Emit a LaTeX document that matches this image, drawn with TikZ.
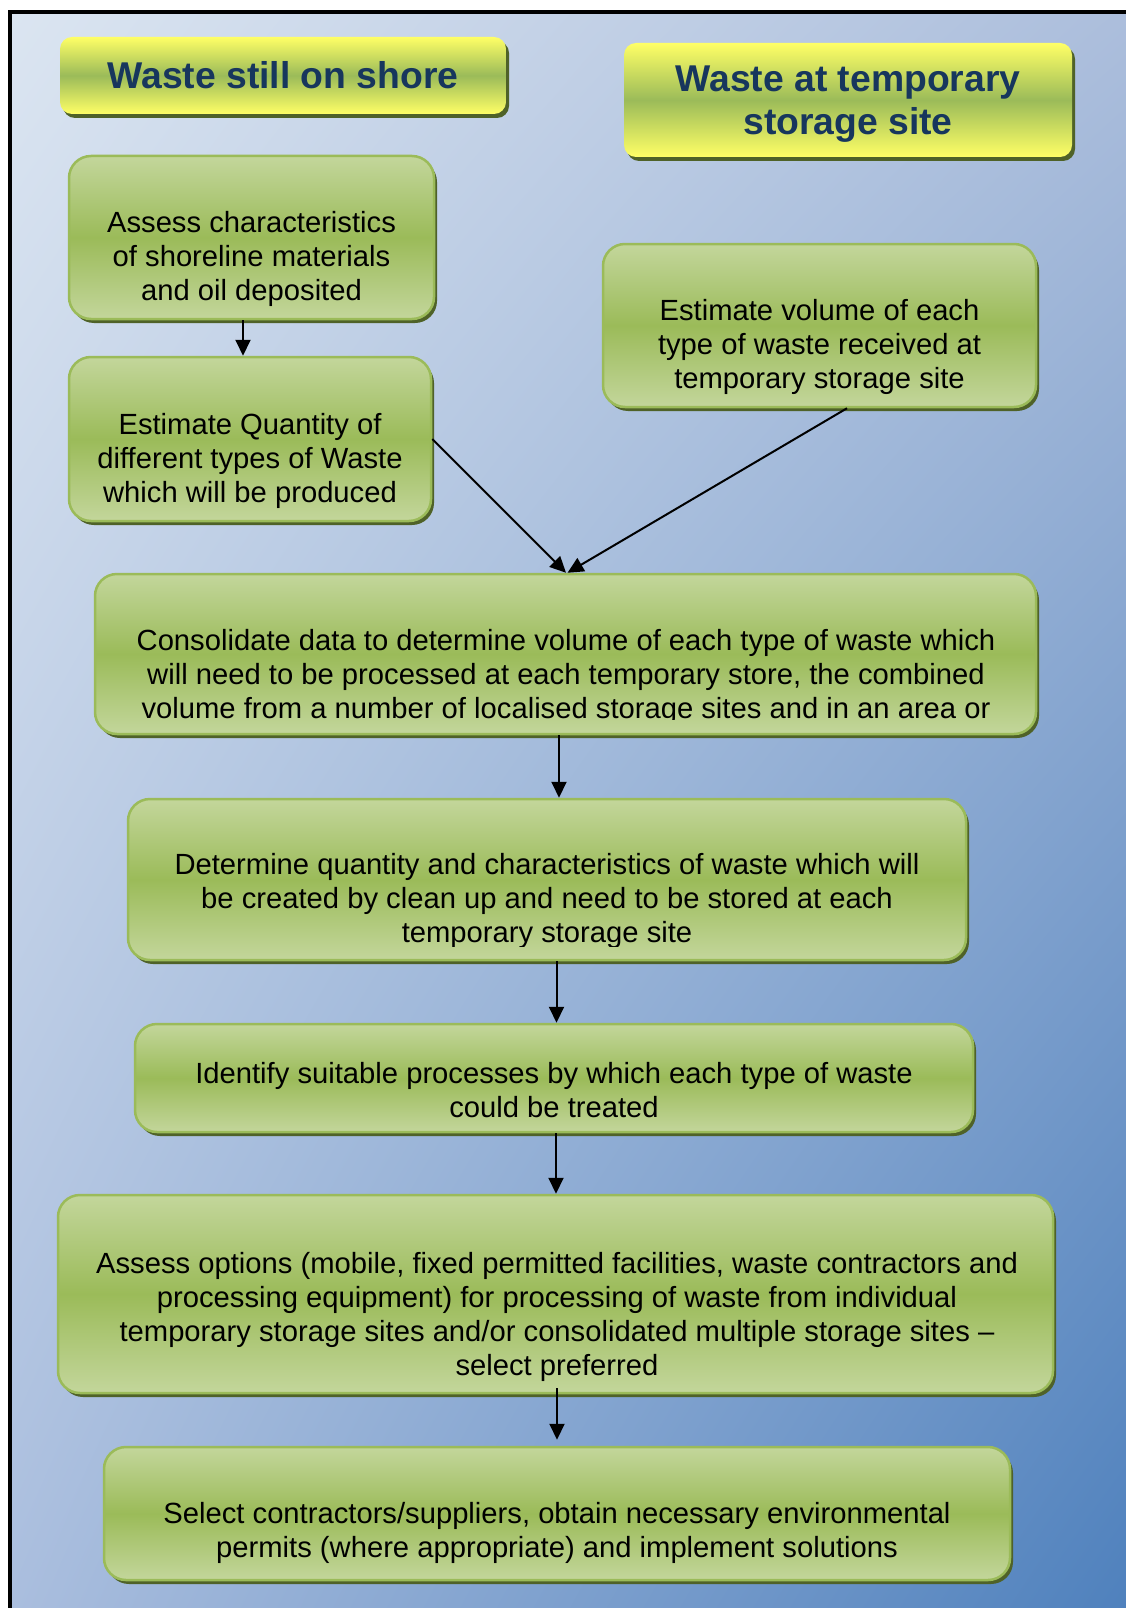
\documentclass[tikz,border=0pt]{standalone}
\usepackage{fontspec}
\setmainfont{Liberation Sans}
\usetikzlibrary{arrows.meta,shadings,shadows}
\definecolor{bgA}{RGB}{219,229,241}
\definecolor{bgB}{RGB}{172,190,220}
\definecolor{bgC}{RGB}{170,190,222}
\definecolor{bgD}{RGB}{79,129,189}
\definecolor{boxlight}{RGB}{195,214,155}
\definecolor{boxdark}{RGB}{155,187,89}
\definecolor{boxedge}{RGB}{155,187,89}
\definecolor{shadowc}{RGB}{79,98,40}
\definecolor{hyellow}{RGB}{255,255,102}
\definecolor{htext}{RGB}{23,54,93}
\tikzset{
  stepbox/.style={rounded corners=22pt, draw=boxedge, line width=2.5pt,
    top color=boxlight, bottom color=boxlight, middle color=boxdark,
    drop shadow={shadow xshift=3pt, shadow yshift=-4pt, fill=shadowc, opacity=1},
    inner sep=0pt},
  headbox/.style={rounded corners=12pt, draw=none,
    top color=hyellow, bottom color=hyellow, middle color=boxdark,
    drop shadow={shadow xshift=3pt, shadow yshift=-4pt, fill=shadowc, opacity=1},
    inner sep=0pt},
  headtxt/.style={align=center, inner sep=0pt, text=htext,
    font=\fontsize{37.3pt}{43pt}\selectfont\bfseries},
  txt/.style={align=center, inner sep=0pt, font=\fontsize{29.2pt}{34pt}\selectfont},
  arr/.style={line width=2pt, -{Triangle[length=16pt,width=15pt]}}
}
\begin{document}
\begin{tikzpicture}[x=1pt,y=-1pt]
\useasboundingbox (0,0) rectangle (1126,1608);
\clip (0,0) rectangle (1126,1608);
\fill[white] (0,0) rectangle (1126,1608);
\shade[upper left=bgA, upper right=bgB, lower left=bgC, lower right=bgD] (12,14) rectangle (1126,1608);
\draw[line width=4pt] (10,1608) -- (10,12) -- (1126,12);

% headers
\node[headbox, minimum width=446pt, minimum height=77pt] (H1) at (283,75.5) {};
\node[headbox, minimum width=448pt, minimum height=114pt] (H2) at (848,100) {};
\node[headtxt] (H1t) at (283,75) {Waste still on shore};
\node[headtxt] (H2t) at (848,104) {Waste at temporary\\storage site};

% boxes
\node[stepbox, minimum width=365pt, minimum height=163pt] (A) at (251.5,237.5) {};
\node[stepbox, minimum width=433pt, minimum height=163pt] (B) at (819.5,325.5) {};
\node[stepbox, minimum width=362pt, minimum height=164pt] (C) at (250,439) {};
\node[stepbox, minimum width=941pt, minimum height=160pt] (D) at (565.5,654) {};
\node[stepbox, minimum width=838pt, minimum height=161pt] (E) at (547,879.5) {};
\node[stepbox, minimum width=838pt, minimum height=108pt] (F) at (554,1078) {};
\node[stepbox, minimum width=995pt, minimum height=198pt] (G) at (555.5,1294) {};
\node[stepbox, minimum width=906pt, minimum height=133pt] (H) at (557,1513.5) {};

% texts
\node[txt] (At) at (251.5,259) {Assess characteristics\\of shoreline materials\\and oil deposited};
\node[txt] (Ct) at (250,461) {Estimate Quantity of\\different types of Waste\\which will be produced};
\node[txt] (Bt) at (819.5,347) {Estimate volume of each\\type of waste received at\\temporary storage site};
\begin{scope}
\clip (95,574) rectangle (1036,719);
\node[txt] (Dt) at (566,677) {Consolidate data to determine volume of each type of waste which\\will need to be processed at each temporary store, the combined\\volume from a number of localised storage sites and in an area or};
\end{scope}
\begin{scope}
\clip (128,799) rectangle (966,946);
\node[txt] (Et) at (547,901) {Determine quantity and characteristics of waste which will\\be created by clean up and need to be stored at each\\temporary storage site};
\end{scope}
\node[txt] (Ft) at (554,1090) {Identify suitable processes by which each type of waste\\could be treated};
\node[txt] (Gt) at (557,1317) {Assess options (mobile, fixed permitted facilities, waste contractors and\\processing equipment) for processing of waste from individual\\temporary storage sites and/or consolidated multiple storage sites --\\select preferred};
\node[txt] (Ht) at (557,1533) {Select contractors/suppliers, obtain necessary environmental\\permits (where appropriate) and implement solutions};

% connectors
\draw[arr] ([xshift=-8.5pt]A.south) -- ([xshift=-8.5pt]A.south |- C.north);
\draw[arr] (C.east) -- ([xshift=0.5pt]D.north);
\draw[arr] ([xshift=27.5pt]B.south) -- ([xshift=2pt]D.north);
\draw[arr] ([xshift=-6.5pt]D.south) -- ([xshift=-6.5pt]D.south |- E.north);
\draw[arr] ([xshift=9.5pt]E.south) -- ([xshift=9.5pt]E.south |- F.north);
\draw[arr] ([xshift=2pt]F.south) -- ([xshift=2pt]F.south |- G.north);
\draw[arr] ([xshift=1.5pt,yshift=6pt]G.south) -- ([xshift=1.5pt,yshift=6pt]G.south |- H.north);
\end{tikzpicture}
\end{document}
